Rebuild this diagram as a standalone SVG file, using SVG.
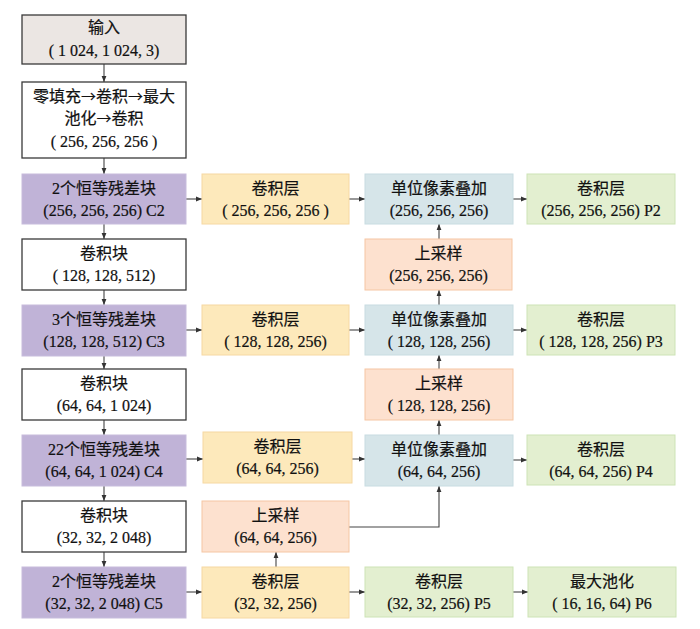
<svg xmlns="http://www.w3.org/2000/svg" width="700" height="629" viewBox="0 0 700 629">
<defs>
<marker id="ah" viewBox="0 0 6 6" refX="6" refY="3" markerWidth="6" markerHeight="6" markerUnits="userSpaceOnUse" orient="auto">
<path d="M0,0.6 L6,3 L0,5.4 z" fill="#333"/>
</marker>
<style>
text{font-family:"Liberation Serif","Noto Sans CJK SC",serif;font-size:16px;fill:#111;stroke:#111;stroke-width:0.2;text-anchor:middle}
.ar{font-family:"Noto Sans CJK SC",sans-serif;font-size:15px}
.w{fill:#fff;stroke:#3a3a3a;stroke-width:1.3}
.g{fill:#ebe6e3;stroke:#3a3a3a;stroke-width:1.3}
.p{fill:#c0b3d7;stroke:#c7bcdc;stroke-width:1}
.y{fill:#fde9bb;stroke:#f6d8a2;stroke-width:1}
.b{fill:#d6e5e9;stroke:#c8dce1;stroke-width:1}
.gr{fill:#e3efd0;stroke:#cde3b6;stroke-width:1}
.o{fill:#fde1cf;stroke:#f5c6a3;stroke-width:1}
#connectors path{fill:none;stroke:#444;stroke-width:1.1;marker-end:url(#ah)}
</style>
</defs>
<g id="connectors">
<path d="M104,64 V82"/>
<path d="M104,158 V174"/>
<path d="M104,224 V239"/>
<path d="M104,290 V305"/>
<path d="M104,356 V369"/>
<path d="M104,420 V435"/>
<path d="M104,486 V501"/>
<path d="M104,552 V567"/>
<path d="M186,199 H202"/>
<path d="M349,199 H365"/>
<path d="M513,199 H527"/>
<path d="M439,239 V224"/>
<path d="M439,305 V290"/>
<path d="M186,330 H202"/>
<path d="M349,330 H365"/>
<path d="M513,330 H527"/>
<path d="M439,369 V355"/>
<path d="M439,435 V420"/>
<path d="M186,459 H203"/>
<path d="M352,459 H365"/>
<path d="M513,460 H527"/>
<path d="M349,527 H439 V486"/>
<path d="M276,567 V552"/>
<path d="M186,592 H202"/>
<path d="M349,592 H365"/>
<path d="M513,592 H528"/>
</g>
<g id="input"><rect class="g" x="22" y="15" width="164" height="49"/><text x="104" y="33">输入</text><text x="104" y="56">( 1 024, 1 024, 3)</text></g>
<g id="stem"><rect class="w" x="22" y="82" width="164" height="76"/><text x="104" y="102">零填充<tspan class="ar">→</tspan>卷积<tspan class="ar">→</tspan>最大</text><text x="104" y="124">池化<tspan class="ar">→</tspan>卷积</text><text x="104" y="147">( 256, 256, 256 )</text></g>
<g id="c2"><rect class="p" x="22" y="174" width="164" height="50"/><text x="104" y="194">2个恒等残差块</text><text x="104" y="216">(256, 256, 256) C2</text></g>
<g id="conv1"><rect class="y" x="202" y="174" width="147" height="50"/><text x="275.5" y="194">卷积层</text><text x="275.5" y="216">( 256, 256, 256 )</text></g>
<g id="add1"><rect class="b" x="365" y="174" width="148" height="50"/><text x="439" y="194">单位像素叠加</text><text x="439" y="216">(256, 256, 256)</text></g>
<g id="p2"><rect class="gr" x="527" y="174" width="148" height="50"/><text x="601" y="194">卷积层</text><text x="601" y="216">(256, 256, 256) P2</text></g>
<g id="block1"><rect class="w" x="22" y="239" width="164" height="51"/><text x="104" y="259">卷积块</text><text x="104" y="281">( 128, 128, 512)</text></g>
<g id="up1"><rect class="o" x="365" y="239" width="147" height="51"/><text x="438.5" y="259">上采样</text><text x="438.5" y="281">(256, 256, 256)</text></g>
<g id="c3"><rect class="p" x="22" y="305" width="164" height="51"/><text x="104" y="325">3个恒等残差块</text><text x="104" y="347">(128, 128, 512) C3</text></g>
<g id="conv2"><rect class="y" x="202" y="305" width="147" height="50"/><text x="275.5" y="325">卷积层</text><text x="275.5" y="347">( 128, 128, 256)</text></g>
<g id="add2"><rect class="b" x="365" y="305" width="148" height="50"/><text x="439" y="325">单位像素叠加</text><text x="439" y="347">( 128, 128, 256)</text></g>
<g id="p3"><rect class="gr" x="527" y="305" width="148" height="50"/><text x="601" y="325">卷积层</text><text x="601" y="347">( 128, 128, 256) P3</text></g>
<g id="block2"><rect class="w" x="22" y="369" width="164" height="51"/><text x="104" y="389">卷积块</text><text x="104" y="411">(64, 64, 1 024)</text></g>
<g id="up2"><rect class="o" x="365" y="369" width="148" height="51"/><text x="439" y="389">上采样</text><text x="439" y="411">( 128, 128, 256)</text></g>
<g id="c4"><rect class="p" x="22" y="435" width="164" height="51"/><text x="104" y="455">22个恒等残差块</text><text x="104" y="477">(64, 64, 1 024) C4</text></g>
<g id="conv3"><rect class="y" x="203" y="432" width="149" height="51"/><text x="277.5" y="452">卷积层</text><text x="277.5" y="474">(64, 64, 256)</text></g>
<g id="add3"><rect class="b" x="365" y="435" width="148" height="51"/><text x="439" y="455">单位像素叠加</text><text x="439" y="477">(64, 64, 256)</text></g>
<g id="p4"><rect class="gr" x="527" y="435" width="148" height="50"/><text x="601" y="455">卷积层</text><text x="601" y="477">(64, 64, 256) P4</text></g>
<g id="block3"><rect class="w" x="22" y="501" width="164" height="51"/><text x="104" y="521">卷积块</text><text x="104" y="543">(32, 32, 2 048)</text></g>
<g id="up3"><rect class="o" x="202" y="501" width="147" height="51"/><text x="275.5" y="521">上采样</text><text x="275.5" y="543">(64, 64, 256)</text></g>
<g id="c5"><rect class="p" x="22" y="567" width="164" height="51"/><text x="104" y="587">2个恒等残差块</text><text x="104" y="609">(32, 32, 2 048) C5</text></g>
<g id="conv4"><rect class="y" x="202" y="567" width="147" height="51"/><text x="275.5" y="587">卷积层</text><text x="275.5" y="609">(32, 32, 256)</text></g>
<g id="p5"><rect class="gr" x="365" y="567" width="148" height="50"/><text x="439" y="587">卷积层</text><text x="439" y="609">(32, 32, 256) P5</text></g>
<g id="p6"><rect class="gr" x="528" y="567" width="148" height="50"/><text x="602" y="587">最大池化</text><text x="602" y="609">( 16, 16, 64) P6</text></g>
</svg>
